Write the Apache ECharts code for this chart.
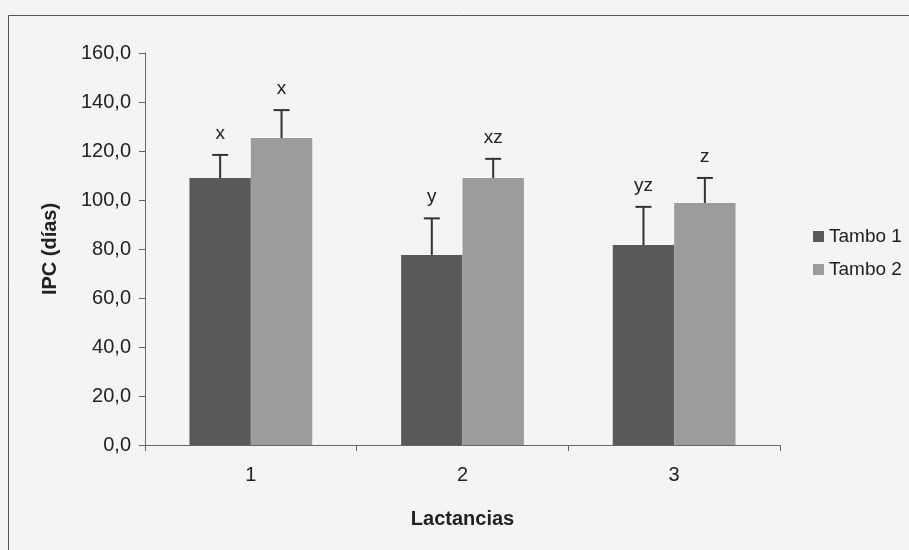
<!DOCTYPE html>
<html><head><meta charset="utf-8">
<script src="https://cdn.jsdelivr.net/npm/echarts@6/dist/echarts.min.js"></script>
<style>html,body{margin:0;padding:0;background:#f4f4f4}#c{width:909px;height:550px}</style>
</head><body><div id="c"></div>
<script>
const categories = ['1', '2', '3'];
const seriesNames = ['Tambo 1', 'Tambo 2'];
const tambo1 = [109.0, 77.6, 81.6];
const tambo2 = [125.3, 109.0, 98.8];
const tambo1Err = [118.4, 92.5, 97.2];
const tambo2Err = [136.7, 116.8, 109.0];
const tambo1Letters = ['x', 'y', 'yz'];
const tambo2Letters = ['x', 'xz', 'z'];
const yTicks = [0, 20, 40, 60, 80, 100, 120, 140, 160];

const FONT = 'Liberation Sans, Arial, sans-serif';
const chart = echarts.init(document.getElementById('c'));

function errSeries(name, vals, tops, letters, side) {
  return {
    type: 'custom',
    name: name + ' err',
    data: vals.map((v, i) => [i, v, tops[i], letters[i]]),
    z: 5,
    renderItem: function (params, api) {
      const band = api.size([1, 0])[0];
      const base = api.coord([api.value(0), api.value(1)]);
      const top = api.coord([api.value(0), api.value(2)]);
      const x = base[0] + side * band * 0.145;
      const cap = 8;
      return {
        type: 'group',
        children: [
          { type: 'line', shape: { x1: x, y1: base[1], x2: x, y2: top[1] }, style: { stroke: '#333', lineWidth: 2 } },
          { type: 'line', shape: { x1: x - cap, y1: top[1], x2: x + cap, y2: top[1] }, style: { stroke: '#333', lineWidth: 2 } },
          { type: 'text', style: { x: x, y: top[1] - 12, text: letters[params.dataIndex], textAlign: 'center', textVerticalAlign: 'bottom', font: '19px ' + FONT, fill: '#222' } }
        ]
      };
    }
  };
}

chart.setOption({
  backgroundColor: '#f4f4f4',
  animation: false,
  graphic: [{ type: 'rect', shape: { x: 8.5, y: 15.5, width: 920, height: 560 }, style: { fill: 'none', stroke: '#555', lineWidth: 1 } }],
  legend: {
    orient: 'vertical', left: 808, top: 222, itemWidth: 11, itemHeight: 11, itemGap: 14,
    data: seriesNames, icon: 'rect',
    textStyle: { fontFamily: FONT, fontSize: 19, color: '#222' }
  },
  grid: { left: 145, right: 129, top: 53, bottom: 105 },
  xAxis: {
    type: 'category', data: categories,
    name: 'Lactancias', nameLocation: 'middle', nameGap: 64,
    nameTextStyle: { fontFamily: FONT, fontSize: 20, fontWeight: 'bold', color: '#222' },
    axisLine: { lineStyle: { color: '#666', width: 1 } },
    axisTick: { show: true, length: 6, lineStyle: { color: '#666' } },
    axisLabel: { fontFamily: FONT, fontSize: 20, color: '#222', margin: 20 }
  },
  yAxis: {
    type: 'value', min: yTicks[0], max: yTicks[yTicks.length - 1], interval: 20,
    name: 'IPC (días)', nameLocation: 'middle', nameGap: 85,
    nameTextStyle: { fontFamily: FONT, fontSize: 20, fontWeight: 'bold', color: '#222' },
    axisLine: { show: true, lineStyle: { color: '#666', width: 1 } },
    axisTick: { show: true, length: 6, lineStyle: { color: '#666' } },
    splitLine: { show: false },
    axisLabel: { fontFamily: FONT, fontSize: 20, color: '#222', margin: 14, formatter: v => v.toFixed(1).replace('.', ',') }
  },
  series: [
    { type: 'bar', name: seriesNames[0], data: tambo1, barWidth: '29%', barGap: '0%', itemStyle: { color: '#595959' } },
    { type: 'bar', name: seriesNames[1], data: tambo2, barWidth: '29%', barGap: '0%', itemStyle: { color: '#9c9c9c' } },
    errSeries(seriesNames[0], tambo1, tambo1Err, tambo1Letters, -1),
    errSeries(seriesNames[1], tambo2, tambo2Err, tambo2Letters, 1)
  ]
});
</script></body></html>
